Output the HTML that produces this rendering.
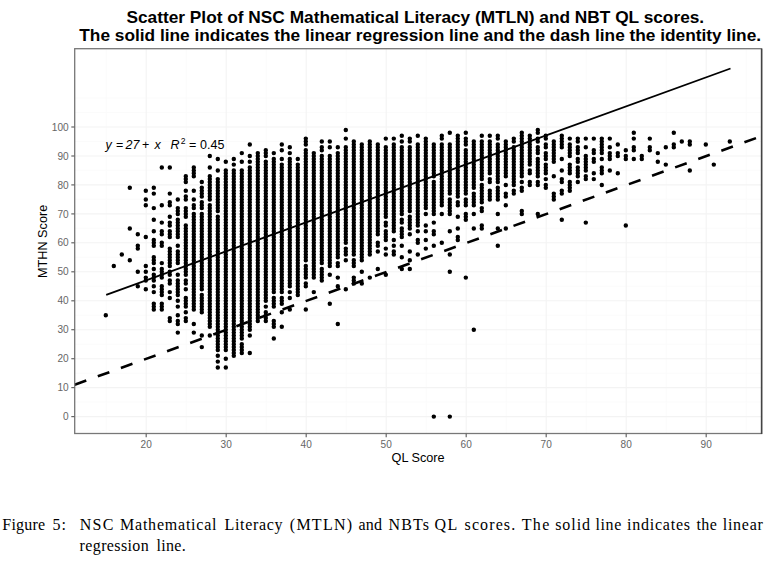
<!DOCTYPE html>
<html><head><meta charset="utf-8"><title>Figure 5</title>
<style>
html,body{margin:0;padding:0;background:#fff;}
body{width:776px;height:561px;overflow:hidden;position:relative;font-family:"Liberation Sans",sans-serif;}
svg{position:absolute;left:0;top:0;}
.ttl{font-family:"Liberation Sans",sans-serif;font-weight:bold;font-size:17.3px;fill:#000;}
.gm{stroke:#fafafa;stroke-width:0.9;}
.gM{stroke:#f3f3f3;stroke-width:1.1;}
.tk{stroke:#666;stroke-width:1.2;}
.tl{font-family:"Liberation Sans",sans-serif;font-size:10.1px;fill:#666;}
.al{font-family:"Liberation Sans",sans-serif;font-size:12.7px;fill:#000;}
.eq text{font-family:"Liberation Sans",sans-serif;font-size:12.5px;fill:#000;}
.cp{font-family:"Liberation Serif",serif;font-size:16px;fill:#000;}
</style></head><body>
<svg width="776" height="561" viewBox="0 0 776 561">
<rect width="776" height="561" fill="#fff"/>
<text x="415.3" y="22.7" text-anchor="middle" class="ttl">Scatter Plot of NSC Mathematical Literacy (MTLN) and NBT QL scores.</text>
<text x="420.2" y="40.7" text-anchor="middle" class="ttl">The solid line indicates the linear regression line and the dash line the identity line.</text>
<g shape-rendering="auto">
<line x1="106.2" y1="48.7" x2="106.2" y2="433.5" class="gm"/><line x1="186.2" y1="48.7" x2="186.2" y2="433.5" class="gm"/><line x1="266.2" y1="48.7" x2="266.2" y2="433.5" class="gm"/><line x1="346.2" y1="48.7" x2="346.2" y2="433.5" class="gm"/><line x1="426.2" y1="48.7" x2="426.2" y2="433.5" class="gm"/><line x1="506.2" y1="48.7" x2="506.2" y2="433.5" class="gm"/><line x1="586.2" y1="48.7" x2="586.2" y2="433.5" class="gm"/><line x1="666.2" y1="48.7" x2="666.2" y2="433.5" class="gm"/><line x1="746.2" y1="48.7" x2="746.2" y2="433.5" class="gm"/><line x1="74.7" y1="431.1" x2="761.6" y2="431.1" class="gm"/><line x1="74.7" y1="402.1" x2="761.6" y2="402.1" class="gm"/><line x1="74.7" y1="373.2" x2="761.6" y2="373.2" class="gm"/><line x1="74.7" y1="344.2" x2="761.6" y2="344.2" class="gm"/><line x1="74.7" y1="315.2" x2="761.6" y2="315.2" class="gm"/><line x1="74.7" y1="286.3" x2="761.6" y2="286.3" class="gm"/><line x1="74.7" y1="257.3" x2="761.6" y2="257.3" class="gm"/><line x1="74.7" y1="228.4" x2="761.6" y2="228.4" class="gm"/><line x1="74.7" y1="199.4" x2="761.6" y2="199.4" class="gm"/><line x1="74.7" y1="170.4" x2="761.6" y2="170.4" class="gm"/><line x1="74.7" y1="141.5" x2="761.6" y2="141.5" class="gm"/><line x1="74.7" y1="112.5" x2="761.6" y2="112.5" class="gm"/><line x1="74.7" y1="98.0" x2="761.6" y2="98.0" class="gm"/><line x1="146.2" y1="48.7" x2="146.2" y2="433.5" class="gM"/><line x1="226.2" y1="48.7" x2="226.2" y2="433.5" class="gM"/><line x1="306.2" y1="48.7" x2="306.2" y2="433.5" class="gM"/><line x1="386.2" y1="48.7" x2="386.2" y2="433.5" class="gM"/><line x1="466.2" y1="48.7" x2="466.2" y2="433.5" class="gM"/><line x1="546.2" y1="48.7" x2="546.2" y2="433.5" class="gM"/><line x1="626.2" y1="48.7" x2="626.2" y2="433.5" class="gM"/><line x1="706.2" y1="48.7" x2="706.2" y2="433.5" class="gM"/><line x1="74.7" y1="416.6" x2="761.6" y2="416.6" class="gM"/><line x1="74.7" y1="387.6" x2="761.6" y2="387.6" class="gM"/><line x1="74.7" y1="358.7" x2="761.6" y2="358.7" class="gM"/><line x1="74.7" y1="329.7" x2="761.6" y2="329.7" class="gM"/><line x1="74.7" y1="300.8" x2="761.6" y2="300.8" class="gM"/><line x1="74.7" y1="271.8" x2="761.6" y2="271.8" class="gM"/><line x1="74.7" y1="242.8" x2="761.6" y2="242.8" class="gM"/><line x1="74.7" y1="213.9" x2="761.6" y2="213.9" class="gM"/><line x1="74.7" y1="184.9" x2="761.6" y2="184.9" class="gM"/><line x1="74.7" y1="156.0" x2="761.6" y2="156.0" class="gM"/><line x1="74.7" y1="127.0" x2="761.6" y2="127.0" class="gM"/>
</g>
<path d="M105.8 315.2h0M113.8 266.0h0M121.8 254.4h0M129.8 260.2h0M129.8 228.4h0M129.8 187.8h0M137.8 286.3h0M137.8 271.8h0M137.8 248.6h0M137.8 245.7h0M137.8 234.2h0M145.8 289.2h0M145.8 280.5h0M145.8 277.6h0M145.8 271.8h0M145.8 266.0h0M145.8 237.0h0M145.8 205.2h0M145.8 199.4h0M145.8 190.7h0M153.8 309.4h0M153.8 306.6h0M153.8 303.7h0M153.8 292.1h0M153.8 286.3h0M153.8 280.5h0M153.8 277.6h0M153.8 274.7h0M153.8 268.9h0M153.8 263.1h0M153.8 260.2h0M153.8 257.3h0M153.8 245.7h0M153.8 242.8h0M153.8 239.9h0M153.8 231.3h0M153.8 219.7h0M153.8 208.1h0M153.8 193.6h0M153.8 187.8h0M161.8 309.4h0M161.8 306.6h0M161.8 303.7h0M161.8 295.0h0M161.8 292.1h0M161.8 289.2h0M161.8 286.3h0M161.8 277.6h0M161.8 274.7h0M161.8 271.8h0M161.8 268.9h0M161.8 263.1h0M161.8 245.7h0M161.8 242.8h0M161.8 234.2h0M161.8 231.3h0M161.8 222.6h0M161.8 205.2h0M161.8 167.5h0M169.8 321.0h0M169.8 318.1h0M169.8 297.9h0M169.8 292.1h0M169.8 283.4h0M169.8 280.5h0M169.8 274.7h0M169.8 271.8h0M169.8 266.0h0M169.8 263.1h0M169.8 260.2h0M169.8 257.3h0M169.8 254.4h0M169.8 251.5h0M169.8 248.6h0M169.8 237.0h0M169.8 234.2h0M169.8 231.3h0M169.8 225.5h0M169.8 222.6h0M169.8 216.8h0M169.8 205.2h0M169.8 202.3h0M169.8 193.6h0M169.8 167.5h0M177.8 332.6h0M177.8 323.9h0M177.8 321.0h0M177.8 315.2h0M177.8 306.6h0M177.8 300.8h0M177.8 295.0h0M177.8 292.1h0M177.8 289.2h0M177.8 286.3h0M177.8 283.4h0M177.8 280.5h0M177.8 274.7h0M177.8 263.1h0M177.8 260.2h0M177.8 257.3h0M177.8 254.4h0M177.8 251.5h0M177.8 245.7h0M177.8 237.0h0M177.8 234.2h0M177.8 231.3h0M177.8 228.4h0M177.8 225.5h0M177.8 222.6h0M177.8 219.7h0M177.8 213.9h0M177.8 211.0h0M177.8 208.1h0M177.8 199.4h0M185.8 321.0h0M185.8 318.1h0M185.8 312.3h0M185.8 306.6h0M185.8 303.7h0M185.8 300.8h0M185.8 297.9h0M185.8 289.2h0M185.8 283.4h0M185.8 280.5h0M185.8 274.7h0M185.8 271.8h0M185.8 268.9h0M185.8 266.0h0M185.8 263.1h0M185.8 260.2h0M185.8 257.3h0M185.8 254.4h0M185.8 251.5h0M185.8 248.6h0M185.8 245.7h0M185.8 242.8h0M185.8 239.9h0M185.8 237.0h0M185.8 234.2h0M185.8 231.3h0M185.8 228.4h0M185.8 225.5h0M185.8 216.8h0M185.8 213.9h0M185.8 211.0h0M185.8 208.1h0M185.8 199.4h0M185.8 196.5h0M185.8 190.7h0M185.8 182.0h0M185.8 179.1h0M185.8 176.2h0M193.8 332.6h0M193.8 323.9h0M193.8 309.4h0M193.8 306.6h0M193.8 303.7h0M193.8 300.8h0M193.8 297.9h0M193.8 295.0h0M193.8 292.1h0M193.8 289.2h0M193.8 286.3h0M193.8 283.4h0M193.8 280.5h0M193.8 277.6h0M193.8 274.7h0M193.8 271.8h0M193.8 268.9h0M193.8 266.0h0M193.8 263.1h0M193.8 260.2h0M193.8 257.3h0M193.8 254.4h0M193.8 251.5h0M193.8 248.6h0M193.8 245.7h0M193.8 242.8h0M193.8 239.9h0M193.8 237.0h0M193.8 234.2h0M193.8 231.3h0M193.8 228.4h0M193.8 225.5h0M193.8 222.6h0M193.8 219.7h0M193.8 216.8h0M193.8 213.9h0M193.8 208.1h0M193.8 205.2h0M193.8 199.4h0M193.8 190.7h0M193.8 176.2h0M193.8 173.3h0M193.8 170.4h0M193.8 167.5h0M201.8 347.1h0M201.8 335.5h0M201.8 312.3h0M201.8 309.4h0M201.8 306.6h0M201.8 303.7h0M201.8 300.8h0M201.8 297.9h0M201.8 295.0h0M201.8 289.2h0M201.8 286.3h0M201.8 283.4h0M201.8 280.5h0M201.8 277.6h0M201.8 274.7h0M201.8 271.8h0M201.8 268.9h0M201.8 266.0h0M201.8 263.1h0M201.8 260.2h0M201.8 257.3h0M201.8 254.4h0M201.8 251.5h0M201.8 248.6h0M201.8 245.7h0M201.8 242.8h0M201.8 239.9h0M201.8 237.0h0M201.8 234.2h0M201.8 231.3h0M201.8 228.4h0M201.8 225.5h0M201.8 222.6h0M201.8 219.7h0M201.8 216.8h0M201.8 213.9h0M201.8 208.1h0M201.8 205.2h0M201.8 202.3h0M201.8 196.5h0M201.8 193.6h0M201.8 190.7h0M201.8 187.8h0M201.8 182.0h0M209.8 335.5h0M209.8 326.8h0M209.8 323.9h0M209.8 321.0h0M209.8 318.1h0M209.8 315.2h0M209.8 312.3h0M209.8 309.4h0M209.8 306.6h0M209.8 303.7h0M209.8 300.8h0M209.8 297.9h0M209.8 295.0h0M209.8 292.1h0M209.8 289.2h0M209.8 286.3h0M209.8 283.4h0M209.8 280.5h0M209.8 277.6h0M209.8 274.7h0M209.8 271.8h0M209.8 268.9h0M209.8 266.0h0M209.8 263.1h0M209.8 260.2h0M209.8 257.3h0M209.8 254.4h0M209.8 251.5h0M209.8 248.6h0M209.8 245.7h0M209.8 242.8h0M209.8 239.9h0M209.8 237.0h0M209.8 234.2h0M209.8 231.3h0M209.8 228.4h0M209.8 225.5h0M209.8 222.6h0M209.8 219.7h0M209.8 216.8h0M209.8 213.9h0M209.8 211.0h0M209.8 208.1h0M209.8 205.2h0M209.8 199.4h0M209.8 196.5h0M209.8 193.6h0M209.8 190.7h0M209.8 187.8h0M209.8 184.9h0M209.8 182.0h0M209.8 179.1h0M209.8 176.2h0M209.8 167.5h0M209.8 156.0h0M217.8 367.4h0M217.8 361.6h0M217.8 355.8h0M217.8 350.0h0M217.8 347.1h0M217.8 344.2h0M217.8 341.3h0M217.8 338.4h0M217.8 335.5h0M217.8 332.6h0M217.8 329.7h0M217.8 326.8h0M217.8 323.9h0M217.8 321.0h0M217.8 318.1h0M217.8 315.2h0M217.8 312.3h0M217.8 309.4h0M217.8 306.6h0M217.8 303.7h0M217.8 300.8h0M217.8 297.9h0M217.8 295.0h0M217.8 292.1h0M217.8 289.2h0M217.8 286.3h0M217.8 283.4h0M217.8 280.5h0M217.8 277.6h0M217.8 274.7h0M217.8 271.8h0M217.8 268.9h0M217.8 266.0h0M217.8 263.1h0M217.8 260.2h0M217.8 257.3h0M217.8 254.4h0M217.8 251.5h0M217.8 248.6h0M217.8 245.7h0M217.8 242.8h0M217.8 239.9h0M217.8 237.0h0M217.8 234.2h0M217.8 231.3h0M217.8 228.4h0M217.8 225.5h0M217.8 222.6h0M217.8 219.7h0M217.8 216.8h0M217.8 211.0h0M217.8 208.1h0M217.8 205.2h0M217.8 202.3h0M217.8 199.4h0M217.8 196.5h0M217.8 193.6h0M217.8 190.7h0M217.8 187.8h0M217.8 184.9h0M217.8 182.0h0M217.8 179.1h0M217.8 170.4h0M217.8 158.9h0M225.8 367.4h0M225.8 358.7h0M225.8 350.0h0M225.8 347.1h0M225.8 344.2h0M225.8 341.3h0M225.8 338.4h0M225.8 335.5h0M225.8 332.6h0M225.8 329.7h0M225.8 326.8h0M225.8 323.9h0M225.8 321.0h0M225.8 318.1h0M225.8 315.2h0M225.8 312.3h0M225.8 309.4h0M225.8 306.6h0M225.8 303.7h0M225.8 300.8h0M225.8 297.9h0M225.8 295.0h0M225.8 292.1h0M225.8 289.2h0M225.8 286.3h0M225.8 283.4h0M225.8 280.5h0M225.8 277.6h0M225.8 274.7h0M225.8 271.8h0M225.8 268.9h0M225.8 266.0h0M225.8 263.1h0M225.8 260.2h0M225.8 257.3h0M225.8 254.4h0M225.8 251.5h0M225.8 248.6h0M225.8 245.7h0M225.8 242.8h0M225.8 239.9h0M225.8 237.0h0M225.8 234.2h0M225.8 231.3h0M225.8 228.4h0M225.8 225.5h0M225.8 222.6h0M225.8 219.7h0M225.8 216.8h0M225.8 213.9h0M225.8 211.0h0M225.8 208.1h0M225.8 205.2h0M225.8 202.3h0M225.8 199.4h0M225.8 196.5h0M225.8 193.6h0M225.8 190.7h0M225.8 187.8h0M225.8 184.9h0M225.8 182.0h0M225.8 179.1h0M225.8 176.2h0M225.8 173.3h0M225.8 170.4h0M225.8 161.8h0M233.8 355.8h0M233.8 352.9h0M233.8 350.0h0M233.8 347.1h0M233.8 344.2h0M233.8 341.3h0M233.8 338.4h0M233.8 335.5h0M233.8 332.6h0M233.8 329.7h0M233.8 326.8h0M233.8 323.9h0M233.8 321.0h0M233.8 318.1h0M233.8 315.2h0M233.8 312.3h0M233.8 309.4h0M233.8 306.6h0M233.8 303.7h0M233.8 300.8h0M233.8 297.9h0M233.8 295.0h0M233.8 292.1h0M233.8 289.2h0M233.8 286.3h0M233.8 283.4h0M233.8 280.5h0M233.8 277.6h0M233.8 274.7h0M233.8 271.8h0M233.8 268.9h0M233.8 266.0h0M233.8 263.1h0M233.8 260.2h0M233.8 257.3h0M233.8 254.4h0M233.8 251.5h0M233.8 248.6h0M233.8 245.7h0M233.8 242.8h0M233.8 239.9h0M233.8 237.0h0M233.8 234.2h0M233.8 231.3h0M233.8 228.4h0M233.8 225.5h0M233.8 222.6h0M233.8 219.7h0M233.8 216.8h0M233.8 213.9h0M233.8 211.0h0M233.8 208.1h0M233.8 205.2h0M233.8 202.3h0M233.8 199.4h0M233.8 196.5h0M233.8 193.6h0M233.8 190.7h0M233.8 187.8h0M233.8 184.9h0M233.8 182.0h0M233.8 179.1h0M233.8 176.2h0M233.8 173.3h0M233.8 170.4h0M233.8 164.6h0M233.8 158.9h0M241.8 352.9h0M241.8 350.0h0M241.8 347.1h0M241.8 344.2h0M241.8 338.4h0M241.8 335.5h0M241.8 332.6h0M241.8 329.7h0M241.8 326.8h0M241.8 323.9h0M241.8 321.0h0M241.8 318.1h0M241.8 315.2h0M241.8 312.3h0M241.8 309.4h0M241.8 306.6h0M241.8 303.7h0M241.8 300.8h0M241.8 297.9h0M241.8 295.0h0M241.8 292.1h0M241.8 289.2h0M241.8 286.3h0M241.8 283.4h0M241.8 280.5h0M241.8 277.6h0M241.8 274.7h0M241.8 271.8h0M241.8 268.9h0M241.8 266.0h0M241.8 263.1h0M241.8 260.2h0M241.8 257.3h0M241.8 254.4h0M241.8 251.5h0M241.8 248.6h0M241.8 245.7h0M241.8 242.8h0M241.8 239.9h0M241.8 237.0h0M241.8 234.2h0M241.8 231.3h0M241.8 228.4h0M241.8 225.5h0M241.8 222.6h0M241.8 219.7h0M241.8 216.8h0M241.8 213.9h0M241.8 211.0h0M241.8 208.1h0M241.8 205.2h0M241.8 202.3h0M241.8 199.4h0M241.8 196.5h0M241.8 193.6h0M241.8 190.7h0M241.8 187.8h0M241.8 184.9h0M241.8 182.0h0M241.8 179.1h0M241.8 176.2h0M241.8 173.3h0M241.8 170.4h0M241.8 161.8h0M241.8 153.1h0M249.8 352.9h0M249.8 335.5h0M249.8 329.7h0M249.8 326.8h0M249.8 323.9h0M249.8 321.0h0M249.8 318.1h0M249.8 315.2h0M249.8 312.3h0M249.8 309.4h0M249.8 306.6h0M249.8 303.7h0M249.8 300.8h0M249.8 297.9h0M249.8 295.0h0M249.8 292.1h0M249.8 289.2h0M249.8 286.3h0M249.8 283.4h0M249.8 280.5h0M249.8 277.6h0M249.8 274.7h0M249.8 271.8h0M249.8 268.9h0M249.8 266.0h0M249.8 263.1h0M249.8 260.2h0M249.8 257.3h0M249.8 254.4h0M249.8 251.5h0M249.8 248.6h0M249.8 245.7h0M249.8 242.8h0M249.8 239.9h0M249.8 237.0h0M249.8 234.2h0M249.8 231.3h0M249.8 228.4h0M249.8 225.5h0M249.8 222.6h0M249.8 219.7h0M249.8 216.8h0M249.8 213.9h0M249.8 211.0h0M249.8 208.1h0M249.8 205.2h0M249.8 202.3h0M249.8 199.4h0M249.8 196.5h0M249.8 193.6h0M249.8 190.7h0M249.8 187.8h0M249.8 184.9h0M249.8 182.0h0M249.8 179.1h0M249.8 176.2h0M249.8 173.3h0M249.8 170.4h0M249.8 167.5h0M249.8 161.8h0M249.8 156.0h0M249.8 144.4h0M257.8 321.0h0M257.8 318.1h0M257.8 315.2h0M257.8 312.3h0M257.8 309.4h0M257.8 306.6h0M257.8 303.7h0M257.8 300.8h0M257.8 297.9h0M257.8 295.0h0M257.8 292.1h0M257.8 289.2h0M257.8 286.3h0M257.8 283.4h0M257.8 280.5h0M257.8 277.6h0M257.8 274.7h0M257.8 271.8h0M257.8 268.9h0M257.8 266.0h0M257.8 263.1h0M257.8 260.2h0M257.8 257.3h0M257.8 254.4h0M257.8 251.5h0M257.8 248.6h0M257.8 245.7h0M257.8 242.8h0M257.8 239.9h0M257.8 237.0h0M257.8 234.2h0M257.8 231.3h0M257.8 228.4h0M257.8 225.5h0M257.8 222.6h0M257.8 219.7h0M257.8 216.8h0M257.8 213.9h0M257.8 211.0h0M257.8 208.1h0M257.8 205.2h0M257.8 202.3h0M257.8 199.4h0M257.8 196.5h0M257.8 193.6h0M257.8 190.7h0M257.8 187.8h0M257.8 184.9h0M257.8 182.0h0M257.8 179.1h0M257.8 176.2h0M257.8 173.3h0M257.8 170.4h0M257.8 167.5h0M257.8 164.6h0M257.8 161.8h0M257.8 158.9h0M257.8 156.0h0M257.8 153.1h0M265.8 321.0h0M265.8 318.1h0M265.8 315.2h0M265.8 312.3h0M265.8 306.6h0M265.8 300.8h0M265.8 297.9h0M265.8 295.0h0M265.8 292.1h0M265.8 289.2h0M265.8 286.3h0M265.8 283.4h0M265.8 280.5h0M265.8 277.6h0M265.8 274.7h0M265.8 271.8h0M265.8 268.9h0M265.8 266.0h0M265.8 263.1h0M265.8 260.2h0M265.8 257.3h0M265.8 254.4h0M265.8 251.5h0M265.8 248.6h0M265.8 245.7h0M265.8 242.8h0M265.8 239.9h0M265.8 237.0h0M265.8 234.2h0M265.8 231.3h0M265.8 228.4h0M265.8 225.5h0M265.8 222.6h0M265.8 219.7h0M265.8 216.8h0M265.8 213.9h0M265.8 211.0h0M265.8 208.1h0M265.8 205.2h0M265.8 202.3h0M265.8 199.4h0M265.8 196.5h0M265.8 193.6h0M265.8 190.7h0M265.8 187.8h0M265.8 184.9h0M265.8 182.0h0M265.8 179.1h0M265.8 176.2h0M265.8 173.3h0M265.8 170.4h0M265.8 167.5h0M265.8 164.6h0M265.8 161.8h0M265.8 156.0h0M265.8 153.1h0M265.8 150.2h0M273.8 338.4h0M273.8 326.8h0M273.8 323.9h0M273.8 321.0h0M273.8 306.6h0M273.8 303.7h0M273.8 300.8h0M273.8 297.9h0M273.8 292.1h0M273.8 289.2h0M273.8 286.3h0M273.8 283.4h0M273.8 280.5h0M273.8 277.6h0M273.8 274.7h0M273.8 271.8h0M273.8 268.9h0M273.8 266.0h0M273.8 263.1h0M273.8 260.2h0M273.8 257.3h0M273.8 254.4h0M273.8 251.5h0M273.8 248.6h0M273.8 245.7h0M273.8 242.8h0M273.8 239.9h0M273.8 237.0h0M273.8 234.2h0M273.8 231.3h0M273.8 228.4h0M273.8 225.5h0M273.8 222.6h0M273.8 219.7h0M273.8 216.8h0M273.8 213.9h0M273.8 211.0h0M273.8 208.1h0M273.8 205.2h0M273.8 202.3h0M273.8 199.4h0M273.8 196.5h0M273.8 193.6h0M273.8 190.7h0M273.8 187.8h0M273.8 184.9h0M273.8 182.0h0M273.8 179.1h0M273.8 176.2h0M273.8 173.3h0M273.8 170.4h0M273.8 167.5h0M273.8 164.6h0M273.8 161.8h0M273.8 158.9h0M273.8 153.1h0M281.8 326.8h0M281.8 312.3h0M281.8 303.7h0M281.8 300.8h0M281.8 297.9h0M281.8 292.1h0M281.8 289.2h0M281.8 286.3h0M281.8 283.4h0M281.8 280.5h0M281.8 277.6h0M281.8 274.7h0M281.8 271.8h0M281.8 268.9h0M281.8 266.0h0M281.8 263.1h0M281.8 260.2h0M281.8 257.3h0M281.8 254.4h0M281.8 251.5h0M281.8 248.6h0M281.8 245.7h0M281.8 242.8h0M281.8 239.9h0M281.8 237.0h0M281.8 234.2h0M281.8 231.3h0M281.8 228.4h0M281.8 225.5h0M281.8 222.6h0M281.8 219.7h0M281.8 216.8h0M281.8 213.9h0M281.8 211.0h0M281.8 208.1h0M281.8 205.2h0M281.8 202.3h0M281.8 199.4h0M281.8 196.5h0M281.8 193.6h0M281.8 190.7h0M281.8 187.8h0M281.8 184.9h0M281.8 182.0h0M281.8 179.1h0M281.8 176.2h0M281.8 173.3h0M281.8 170.4h0M281.8 167.5h0M281.8 164.6h0M281.8 158.9h0M281.8 150.2h0M281.8 144.4h0M289.8 309.4h0M289.8 297.9h0M289.8 292.1h0M289.8 286.3h0M289.8 283.4h0M289.8 280.5h0M289.8 277.6h0M289.8 274.7h0M289.8 271.8h0M289.8 268.9h0M289.8 266.0h0M289.8 263.1h0M289.8 260.2h0M289.8 257.3h0M289.8 254.4h0M289.8 251.5h0M289.8 248.6h0M289.8 245.7h0M289.8 242.8h0M289.8 239.9h0M289.8 237.0h0M289.8 234.2h0M289.8 231.3h0M289.8 228.4h0M289.8 225.5h0M289.8 222.6h0M289.8 219.7h0M289.8 216.8h0M289.8 213.9h0M289.8 211.0h0M289.8 208.1h0M289.8 205.2h0M289.8 202.3h0M289.8 199.4h0M289.8 196.5h0M289.8 193.6h0M289.8 190.7h0M289.8 187.8h0M289.8 184.9h0M289.8 182.0h0M289.8 179.1h0M289.8 176.2h0M289.8 173.3h0M289.8 170.4h0M289.8 167.5h0M289.8 164.6h0M289.8 161.8h0M289.8 158.9h0M289.8 153.1h0M289.8 147.3h0M297.8 295.0h0M297.8 292.1h0M297.8 289.2h0M297.8 286.3h0M297.8 283.4h0M297.8 280.5h0M297.8 277.6h0M297.8 274.7h0M297.8 271.8h0M297.8 268.9h0M297.8 266.0h0M297.8 263.1h0M297.8 260.2h0M297.8 257.3h0M297.8 254.4h0M297.8 251.5h0M297.8 248.6h0M297.8 245.7h0M297.8 242.8h0M297.8 239.9h0M297.8 237.0h0M297.8 234.2h0M297.8 231.3h0M297.8 228.4h0M297.8 225.5h0M297.8 222.6h0M297.8 219.7h0M297.8 216.8h0M297.8 213.9h0M297.8 211.0h0M297.8 208.1h0M297.8 205.2h0M297.8 202.3h0M297.8 199.4h0M297.8 196.5h0M297.8 193.6h0M297.8 190.7h0M297.8 187.8h0M297.8 184.9h0M297.8 182.0h0M297.8 179.1h0M297.8 176.2h0M297.8 173.3h0M297.8 170.4h0M297.8 167.5h0M297.8 164.6h0M297.8 158.9h0M305.8 309.4h0M305.8 286.3h0M305.8 283.4h0M305.8 277.6h0M305.8 274.7h0M305.8 271.8h0M305.8 268.9h0M305.8 266.0h0M305.8 260.2h0M305.8 257.3h0M305.8 254.4h0M305.8 251.5h0M305.8 248.6h0M305.8 245.7h0M305.8 242.8h0M305.8 239.9h0M305.8 237.0h0M305.8 234.2h0M305.8 231.3h0M305.8 228.4h0M305.8 225.5h0M305.8 222.6h0M305.8 219.7h0M305.8 216.8h0M305.8 213.9h0M305.8 211.0h0M305.8 208.1h0M305.8 205.2h0M305.8 202.3h0M305.8 199.4h0M305.8 196.5h0M305.8 193.6h0M305.8 190.7h0M305.8 187.8h0M305.8 184.9h0M305.8 182.0h0M305.8 179.1h0M305.8 176.2h0M305.8 173.3h0M305.8 170.4h0M305.8 167.5h0M305.8 164.6h0M305.8 161.8h0M305.8 158.9h0M305.8 156.0h0M305.8 153.1h0M305.8 150.2h0M305.8 144.4h0M305.8 141.5h0M305.8 138.6h0M313.8 292.1h0M313.8 277.6h0M313.8 274.7h0M313.8 271.8h0M313.8 268.9h0M313.8 266.0h0M313.8 263.1h0M313.8 260.2h0M313.8 257.3h0M313.8 254.4h0M313.8 251.5h0M313.8 248.6h0M313.8 245.7h0M313.8 242.8h0M313.8 239.9h0M313.8 237.0h0M313.8 234.2h0M313.8 231.3h0M313.8 228.4h0M313.8 225.5h0M313.8 222.6h0M313.8 219.7h0M313.8 216.8h0M313.8 213.9h0M313.8 211.0h0M313.8 208.1h0M313.8 205.2h0M313.8 202.3h0M313.8 199.4h0M313.8 196.5h0M313.8 193.6h0M313.8 190.7h0M313.8 187.8h0M313.8 184.9h0M313.8 182.0h0M313.8 179.1h0M313.8 176.2h0M313.8 173.3h0M313.8 170.4h0M313.8 167.5h0M313.8 164.6h0M313.8 161.8h0M313.8 158.9h0M313.8 156.0h0M313.8 153.1h0M321.8 280.5h0M321.8 277.6h0M321.8 274.7h0M321.8 271.8h0M321.8 268.9h0M321.8 263.1h0M321.8 260.2h0M321.8 257.3h0M321.8 254.4h0M321.8 251.5h0M321.8 248.6h0M321.8 245.7h0M321.8 242.8h0M321.8 239.9h0M321.8 237.0h0M321.8 234.2h0M321.8 231.3h0M321.8 228.4h0M321.8 225.5h0M321.8 222.6h0M321.8 219.7h0M321.8 216.8h0M321.8 213.9h0M321.8 211.0h0M321.8 208.1h0M321.8 205.2h0M321.8 202.3h0M321.8 199.4h0M321.8 196.5h0M321.8 193.6h0M321.8 190.7h0M321.8 187.8h0M321.8 184.9h0M321.8 182.0h0M321.8 179.1h0M321.8 176.2h0M321.8 173.3h0M321.8 170.4h0M321.8 167.5h0M321.8 164.6h0M321.8 161.8h0M321.8 158.9h0M321.8 156.0h0M321.8 150.2h0M321.8 147.3h0M321.8 141.5h0M329.8 303.7h0M329.8 274.7h0M329.8 266.0h0M329.8 263.1h0M329.8 260.2h0M329.8 257.3h0M329.8 254.4h0M329.8 251.5h0M329.8 248.6h0M329.8 245.7h0M329.8 242.8h0M329.8 239.9h0M329.8 237.0h0M329.8 234.2h0M329.8 231.3h0M329.8 228.4h0M329.8 225.5h0M329.8 222.6h0M329.8 219.7h0M329.8 216.8h0M329.8 213.9h0M329.8 211.0h0M329.8 208.1h0M329.8 205.2h0M329.8 202.3h0M329.8 199.4h0M329.8 196.5h0M329.8 193.6h0M329.8 190.7h0M329.8 187.8h0M329.8 184.9h0M329.8 182.0h0M329.8 179.1h0M329.8 176.2h0M329.8 173.3h0M329.8 170.4h0M329.8 167.5h0M329.8 164.6h0M329.8 161.8h0M329.8 158.9h0M329.8 156.0h0M329.8 147.3h0M329.8 141.5h0M337.8 323.9h0M337.8 286.3h0M337.8 277.6h0M337.8 266.0h0M337.8 263.1h0M337.8 257.3h0M337.8 254.4h0M337.8 251.5h0M337.8 248.6h0M337.8 245.7h0M337.8 242.8h0M337.8 239.9h0M337.8 237.0h0M337.8 234.2h0M337.8 231.3h0M337.8 228.4h0M337.8 225.5h0M337.8 222.6h0M337.8 219.7h0M337.8 216.8h0M337.8 213.9h0M337.8 211.0h0M337.8 208.1h0M337.8 205.2h0M337.8 202.3h0M337.8 199.4h0M337.8 196.5h0M337.8 193.6h0M337.8 190.7h0M337.8 187.8h0M337.8 184.9h0M337.8 182.0h0M337.8 179.1h0M337.8 176.2h0M337.8 173.3h0M337.8 170.4h0M337.8 167.5h0M337.8 164.6h0M337.8 161.8h0M337.8 158.9h0M337.8 156.0h0M337.8 153.1h0M337.8 147.3h0M345.8 289.2h0M345.8 260.2h0M345.8 254.4h0M345.8 251.5h0M345.8 248.6h0M345.8 242.8h0M345.8 239.9h0M345.8 237.0h0M345.8 234.2h0M345.8 231.3h0M345.8 228.4h0M345.8 225.5h0M345.8 222.6h0M345.8 219.7h0M345.8 216.8h0M345.8 213.9h0M345.8 211.0h0M345.8 208.1h0M345.8 205.2h0M345.8 202.3h0M345.8 199.4h0M345.8 196.5h0M345.8 193.6h0M345.8 190.7h0M345.8 187.8h0M345.8 184.9h0M345.8 182.0h0M345.8 179.1h0M345.8 176.2h0M345.8 173.3h0M345.8 170.4h0M345.8 167.5h0M345.8 164.6h0M345.8 161.8h0M345.8 158.9h0M345.8 156.0h0M345.8 153.1h0M345.8 150.2h0M345.8 147.3h0M345.8 138.6h0M345.8 129.9h0M353.8 283.4h0M353.8 280.5h0M353.8 277.6h0M353.8 266.0h0M353.8 263.1h0M353.8 260.2h0M353.8 254.4h0M353.8 251.5h0M353.8 248.6h0M353.8 245.7h0M353.8 242.8h0M353.8 239.9h0M353.8 237.0h0M353.8 234.2h0M353.8 231.3h0M353.8 228.4h0M353.8 225.5h0M353.8 222.6h0M353.8 219.7h0M353.8 216.8h0M353.8 213.9h0M353.8 211.0h0M353.8 208.1h0M353.8 205.2h0M353.8 202.3h0M353.8 199.4h0M353.8 196.5h0M353.8 193.6h0M353.8 190.7h0M353.8 187.8h0M353.8 184.9h0M353.8 182.0h0M353.8 179.1h0M353.8 176.2h0M353.8 173.3h0M353.8 170.4h0M353.8 167.5h0M353.8 164.6h0M353.8 161.8h0M353.8 158.9h0M353.8 156.0h0M353.8 153.1h0M353.8 150.2h0M353.8 147.3h0M353.8 144.4h0M353.8 141.5h0M361.8 283.4h0M361.8 271.8h0M361.8 260.2h0M361.8 257.3h0M361.8 254.4h0M361.8 251.5h0M361.8 248.6h0M361.8 245.7h0M361.8 242.8h0M361.8 239.9h0M361.8 237.0h0M361.8 234.2h0M361.8 231.3h0M361.8 228.4h0M361.8 225.5h0M361.8 222.6h0M361.8 219.7h0M361.8 216.8h0M361.8 213.9h0M361.8 211.0h0M361.8 208.1h0M361.8 205.2h0M361.8 202.3h0M361.8 199.4h0M361.8 196.5h0M361.8 193.6h0M361.8 190.7h0M361.8 187.8h0M361.8 184.9h0M361.8 182.0h0M361.8 179.1h0M361.8 176.2h0M361.8 173.3h0M361.8 170.4h0M361.8 167.5h0M361.8 164.6h0M361.8 161.8h0M361.8 158.9h0M361.8 156.0h0M361.8 153.1h0M361.8 150.2h0M361.8 147.3h0M361.8 144.4h0M369.8 277.6h0M369.8 254.4h0M369.8 251.5h0M369.8 248.6h0M369.8 245.7h0M369.8 242.8h0M369.8 239.9h0M369.8 237.0h0M369.8 234.2h0M369.8 231.3h0M369.8 228.4h0M369.8 225.5h0M369.8 222.6h0M369.8 219.7h0M369.8 216.8h0M369.8 213.9h0M369.8 211.0h0M369.8 208.1h0M369.8 205.2h0M369.8 202.3h0M369.8 199.4h0M369.8 196.5h0M369.8 193.6h0M369.8 190.7h0M369.8 187.8h0M369.8 184.9h0M369.8 182.0h0M369.8 179.1h0M369.8 176.2h0M369.8 173.3h0M369.8 170.4h0M369.8 167.5h0M369.8 164.6h0M369.8 161.8h0M369.8 158.9h0M369.8 156.0h0M369.8 153.1h0M369.8 150.2h0M369.8 147.3h0M369.8 144.4h0M369.8 141.5h0M377.8 268.9h0M377.8 251.5h0M377.8 245.7h0M377.8 242.8h0M377.8 234.2h0M377.8 231.3h0M377.8 228.4h0M377.8 225.5h0M377.8 222.6h0M377.8 219.7h0M377.8 216.8h0M377.8 213.9h0M377.8 211.0h0M377.8 208.1h0M377.8 205.2h0M377.8 202.3h0M377.8 199.4h0M377.8 196.5h0M377.8 193.6h0M377.8 190.7h0M377.8 187.8h0M377.8 184.9h0M377.8 182.0h0M377.8 179.1h0M377.8 176.2h0M377.8 173.3h0M377.8 170.4h0M377.8 167.5h0M377.8 164.6h0M377.8 161.8h0M377.8 158.9h0M377.8 156.0h0M377.8 153.1h0M377.8 150.2h0M377.8 147.3h0M377.8 144.4h0M385.8 274.7h0M385.8 254.4h0M385.8 248.6h0M385.8 239.9h0M385.8 237.0h0M385.8 234.2h0M385.8 231.3h0M385.8 225.5h0M385.8 222.6h0M385.8 216.8h0M385.8 213.9h0M385.8 211.0h0M385.8 208.1h0M385.8 205.2h0M385.8 202.3h0M385.8 199.4h0M385.8 196.5h0M385.8 193.6h0M385.8 190.7h0M385.8 187.8h0M385.8 184.9h0M385.8 182.0h0M385.8 179.1h0M385.8 176.2h0M385.8 173.3h0M385.8 170.4h0M385.8 167.5h0M385.8 164.6h0M385.8 161.8h0M385.8 158.9h0M385.8 156.0h0M385.8 153.1h0M385.8 150.2h0M385.8 147.3h0M385.8 138.6h0M393.8 254.4h0M393.8 251.5h0M393.8 245.7h0M393.8 239.9h0M393.8 231.3h0M393.8 228.4h0M393.8 225.5h0M393.8 222.6h0M393.8 219.7h0M393.8 216.8h0M393.8 213.9h0M393.8 211.0h0M393.8 208.1h0M393.8 205.2h0M393.8 202.3h0M393.8 199.4h0M393.8 196.5h0M393.8 193.6h0M393.8 190.7h0M393.8 187.8h0M393.8 184.9h0M393.8 182.0h0M393.8 179.1h0M393.8 176.2h0M393.8 173.3h0M393.8 170.4h0M393.8 167.5h0M393.8 164.6h0M393.8 161.8h0M393.8 158.9h0M393.8 156.0h0M393.8 153.1h0M393.8 150.2h0M393.8 147.3h0M393.8 144.4h0M393.8 138.6h0M401.8 268.9h0M401.8 257.3h0M401.8 245.7h0M401.8 237.0h0M401.8 234.2h0M401.8 231.3h0M401.8 228.4h0M401.8 222.6h0M401.8 219.7h0M401.8 213.9h0M401.8 211.0h0M401.8 208.1h0M401.8 205.2h0M401.8 202.3h0M401.8 199.4h0M401.8 196.5h0M401.8 193.6h0M401.8 190.7h0M401.8 187.8h0M401.8 184.9h0M401.8 182.0h0M401.8 179.1h0M401.8 176.2h0M401.8 173.3h0M401.8 170.4h0M401.8 167.5h0M401.8 164.6h0M401.8 161.8h0M401.8 158.9h0M401.8 156.0h0M401.8 153.1h0M401.8 150.2h0M401.8 147.3h0M401.8 141.5h0M401.8 135.7h0M409.8 268.9h0M409.8 260.2h0M409.8 251.5h0M409.8 234.2h0M409.8 228.4h0M409.8 225.5h0M409.8 222.6h0M409.8 219.7h0M409.8 216.8h0M409.8 211.0h0M409.8 208.1h0M409.8 205.2h0M409.8 202.3h0M409.8 199.4h0M409.8 196.5h0M409.8 193.6h0M409.8 190.7h0M409.8 187.8h0M409.8 184.9h0M409.8 182.0h0M409.8 179.1h0M409.8 176.2h0M409.8 173.3h0M409.8 170.4h0M409.8 167.5h0M409.8 164.6h0M409.8 161.8h0M409.8 158.9h0M409.8 156.0h0M409.8 153.1h0M409.8 150.2h0M409.8 147.3h0M409.8 141.5h0M409.8 138.6h0M417.8 254.4h0M417.8 242.8h0M417.8 239.9h0M417.8 231.3h0M417.8 225.5h0M417.8 222.6h0M417.8 219.7h0M417.8 216.8h0M417.8 213.9h0M417.8 211.0h0M417.8 208.1h0M417.8 205.2h0M417.8 202.3h0M417.8 199.4h0M417.8 196.5h0M417.8 193.6h0M417.8 190.7h0M417.8 187.8h0M417.8 184.9h0M417.8 182.0h0M417.8 179.1h0M417.8 176.2h0M417.8 173.3h0M417.8 170.4h0M417.8 167.5h0M417.8 164.6h0M417.8 161.8h0M417.8 158.9h0M417.8 156.0h0M417.8 153.1h0M417.8 150.2h0M417.8 147.3h0M417.8 144.4h0M417.8 135.7h0M425.8 248.6h0M425.8 239.9h0M425.8 231.3h0M425.8 225.5h0M425.8 213.9h0M425.8 208.1h0M425.8 205.2h0M425.8 202.3h0M425.8 199.4h0M425.8 196.5h0M425.8 193.6h0M425.8 190.7h0M425.8 187.8h0M425.8 184.9h0M425.8 182.0h0M425.8 179.1h0M425.8 176.2h0M425.8 173.3h0M425.8 170.4h0M425.8 167.5h0M425.8 164.6h0M425.8 161.8h0M425.8 158.9h0M425.8 156.0h0M425.8 153.1h0M425.8 150.2h0M425.8 147.3h0M425.8 144.4h0M425.8 141.5h0M425.8 138.6h0M433.8 416.6h0M433.8 245.7h0M433.8 234.2h0M433.8 231.3h0M433.8 222.6h0M433.8 213.9h0M433.8 211.0h0M433.8 208.1h0M433.8 205.2h0M433.8 202.3h0M433.8 199.4h0M433.8 196.5h0M433.8 193.6h0M433.8 190.7h0M433.8 187.8h0M433.8 184.9h0M433.8 182.0h0M433.8 176.2h0M433.8 173.3h0M433.8 170.4h0M433.8 167.5h0M433.8 164.6h0M433.8 161.8h0M433.8 158.9h0M433.8 156.0h0M433.8 153.1h0M433.8 150.2h0M433.8 147.3h0M433.8 144.4h0M441.8 242.8h0M441.8 213.9h0M441.8 205.2h0M441.8 202.3h0M441.8 199.4h0M441.8 196.5h0M441.8 193.6h0M441.8 190.7h0M441.8 187.8h0M441.8 184.9h0M441.8 182.0h0M441.8 179.1h0M441.8 176.2h0M441.8 173.3h0M441.8 170.4h0M441.8 167.5h0M441.8 164.6h0M441.8 161.8h0M441.8 158.9h0M441.8 156.0h0M441.8 153.1h0M441.8 150.2h0M441.8 147.3h0M441.8 144.4h0M441.8 138.6h0M441.8 135.7h0M449.8 416.6h0M449.8 271.8h0M449.8 254.4h0M449.8 231.3h0M449.8 213.9h0M449.8 211.0h0M449.8 208.1h0M449.8 205.2h0M449.8 202.3h0M449.8 199.4h0M449.8 193.6h0M449.8 190.7h0M449.8 187.8h0M449.8 184.9h0M449.8 182.0h0M449.8 179.1h0M449.8 176.2h0M449.8 173.3h0M449.8 170.4h0M449.8 167.5h0M449.8 164.6h0M449.8 161.8h0M449.8 158.9h0M449.8 156.0h0M449.8 153.1h0M449.8 150.2h0M449.8 147.3h0M449.8 144.4h0M449.8 132.8h0M457.8 239.9h0M457.8 237.0h0M457.8 228.4h0M457.8 216.8h0M457.8 205.2h0M457.8 202.3h0M457.8 196.5h0M457.8 193.6h0M457.8 190.7h0M457.8 187.8h0M457.8 184.9h0M457.8 182.0h0M457.8 179.1h0M457.8 176.2h0M457.8 173.3h0M457.8 170.4h0M457.8 167.5h0M457.8 164.6h0M457.8 161.8h0M457.8 158.9h0M457.8 156.0h0M457.8 153.1h0M457.8 150.2h0M457.8 147.3h0M457.8 144.4h0M457.8 141.5h0M457.8 138.6h0M457.8 135.7h0M465.8 277.6h0M465.8 219.7h0M465.8 216.8h0M465.8 213.9h0M465.8 205.2h0M465.8 202.3h0M465.8 199.4h0M465.8 193.6h0M465.8 190.7h0M465.8 187.8h0M465.8 184.9h0M465.8 182.0h0M465.8 179.1h0M465.8 176.2h0M465.8 173.3h0M465.8 170.4h0M465.8 167.5h0M465.8 164.6h0M465.8 161.8h0M465.8 158.9h0M465.8 156.0h0M465.8 153.1h0M465.8 150.2h0M465.8 144.4h0M465.8 141.5h0M465.8 138.6h0M465.8 132.8h0M473.8 329.7h0M473.8 228.4h0M473.8 213.9h0M473.8 205.2h0M473.8 202.3h0M473.8 199.4h0M473.8 196.5h0M473.8 193.6h0M473.8 187.8h0M473.8 184.9h0M473.8 182.0h0M473.8 179.1h0M473.8 176.2h0M473.8 173.3h0M473.8 170.4h0M473.8 167.5h0M473.8 164.6h0M473.8 161.8h0M473.8 158.9h0M473.8 156.0h0M473.8 153.1h0M473.8 150.2h0M473.8 147.3h0M473.8 144.4h0M473.8 141.5h0M481.8 228.4h0M481.8 225.5h0M481.8 211.0h0M481.8 208.1h0M481.8 202.3h0M481.8 199.4h0M481.8 196.5h0M481.8 193.6h0M481.8 190.7h0M481.8 187.8h0M481.8 184.9h0M481.8 179.1h0M481.8 176.2h0M481.8 173.3h0M481.8 170.4h0M481.8 167.5h0M481.8 164.6h0M481.8 161.8h0M481.8 158.9h0M481.8 156.0h0M481.8 153.1h0M481.8 150.2h0M481.8 147.3h0M481.8 144.4h0M481.8 141.5h0M481.8 135.7h0M489.8 199.4h0M489.8 196.5h0M489.8 193.6h0M489.8 190.7h0M489.8 182.0h0M489.8 179.1h0M489.8 173.3h0M489.8 170.4h0M489.8 167.5h0M489.8 164.6h0M489.8 161.8h0M489.8 158.9h0M489.8 156.0h0M489.8 153.1h0M489.8 150.2h0M489.8 147.3h0M489.8 144.4h0M489.8 141.5h0M489.8 135.7h0M497.8 245.7h0M497.8 228.4h0M497.8 213.9h0M497.8 199.4h0M497.8 196.5h0M497.8 193.6h0M497.8 190.7h0M497.8 187.8h0M497.8 182.0h0M497.8 179.1h0M497.8 176.2h0M497.8 173.3h0M497.8 170.4h0M497.8 167.5h0M497.8 164.6h0M497.8 161.8h0M497.8 158.9h0M497.8 156.0h0M497.8 153.1h0M497.8 150.2h0M497.8 147.3h0M497.8 144.4h0M497.8 138.6h0M497.8 135.7h0M505.8 228.4h0M505.8 205.2h0M505.8 196.5h0M505.8 193.6h0M505.8 184.9h0M505.8 176.2h0M505.8 173.3h0M505.8 170.4h0M505.8 167.5h0M505.8 164.6h0M505.8 161.8h0M505.8 158.9h0M505.8 156.0h0M505.8 153.1h0M505.8 150.2h0M505.8 147.3h0M505.8 144.4h0M505.8 141.5h0M513.8 193.6h0M513.8 190.7h0M513.8 184.9h0M513.8 182.0h0M513.8 179.1h0M513.8 176.2h0M513.8 173.3h0M513.8 170.4h0M513.8 167.5h0M513.8 164.6h0M513.8 161.8h0M513.8 158.9h0M513.8 156.0h0M513.8 153.1h0M513.8 150.2h0M513.8 147.3h0M513.8 141.5h0M513.8 138.6h0M521.8 213.9h0M521.8 211.0h0M521.8 190.7h0M521.8 187.8h0M521.8 182.0h0M521.8 176.2h0M521.8 173.3h0M521.8 170.4h0M521.8 167.5h0M521.8 164.6h0M521.8 161.8h0M521.8 158.9h0M521.8 156.0h0M521.8 153.1h0M521.8 150.2h0M521.8 147.3h0M521.8 144.4h0M521.8 141.5h0M521.8 138.6h0M521.8 135.7h0M521.8 132.8h0M529.8 184.9h0M529.8 182.0h0M529.8 173.3h0M529.8 170.4h0M529.8 164.6h0M529.8 161.8h0M529.8 158.9h0M529.8 156.0h0M529.8 153.1h0M529.8 150.2h0M529.8 147.3h0M529.8 144.4h0M529.8 141.5h0M529.8 138.6h0M529.8 135.7h0M537.8 213.9h0M537.8 184.9h0M537.8 182.0h0M537.8 176.2h0M537.8 173.3h0M537.8 170.4h0M537.8 167.5h0M537.8 164.6h0M537.8 161.8h0M537.8 158.9h0M537.8 153.1h0M537.8 150.2h0M537.8 147.3h0M537.8 141.5h0M537.8 138.6h0M537.8 132.8h0M537.8 129.9h0M545.8 187.8h0M545.8 184.9h0M545.8 179.1h0M545.8 173.3h0M545.8 170.4h0M545.8 167.5h0M545.8 164.6h0M545.8 158.9h0M545.8 156.0h0M545.8 153.1h0M545.8 147.3h0M545.8 144.4h0M545.8 138.6h0M545.8 135.7h0M553.8 199.4h0M553.8 196.5h0M553.8 193.6h0M553.8 176.2h0M553.8 161.8h0M553.8 158.9h0M553.8 156.0h0M553.8 153.1h0M553.8 150.2h0M553.8 147.3h0M553.8 144.4h0M553.8 141.5h0M561.8 219.7h0M561.8 193.6h0M561.8 190.7h0M561.8 182.0h0M561.8 179.1h0M561.8 170.4h0M561.8 158.9h0M561.8 147.3h0M561.8 144.4h0M561.8 141.5h0M561.8 138.6h0M561.8 135.7h0M569.8 190.7h0M569.8 187.8h0M569.8 184.9h0M569.8 182.0h0M569.8 173.3h0M569.8 170.4h0M569.8 167.5h0M569.8 164.6h0M569.8 156.0h0M569.8 153.1h0M569.8 150.2h0M569.8 147.3h0M569.8 144.4h0M569.8 138.6h0M577.8 182.0h0M577.8 176.2h0M577.8 173.3h0M577.8 170.4h0M577.8 167.5h0M577.8 161.8h0M577.8 158.9h0M577.8 153.1h0M577.8 150.2h0M577.8 147.3h0M577.8 141.5h0M577.8 138.6h0M585.8 222.6h0M585.8 179.1h0M585.8 176.2h0M585.8 170.4h0M585.8 167.5h0M585.8 164.6h0M585.8 161.8h0M585.8 158.9h0M585.8 156.0h0M585.8 147.3h0M585.8 138.6h0M593.8 179.1h0M593.8 173.3h0M593.8 161.8h0M593.8 158.9h0M593.8 153.1h0M593.8 150.2h0M593.8 138.6h0M601.8 184.9h0M601.8 173.3h0M601.8 170.4h0M601.8 167.5h0M601.8 158.9h0M601.8 153.1h0M601.8 150.2h0M601.8 147.3h0M601.8 144.4h0M601.8 141.5h0M601.8 138.6h0M609.8 170.4h0M609.8 158.9h0M609.8 156.0h0M609.8 153.1h0M609.8 147.3h0M609.8 138.6h0M617.8 173.3h0M617.8 156.0h0M617.8 153.1h0M617.8 144.4h0M625.8 225.5h0M625.8 158.9h0M625.8 156.0h0M625.8 150.2h0M633.8 158.9h0M633.8 150.2h0M633.8 147.3h0M633.8 138.6h0M633.8 132.8h0M641.8 158.9h0M641.8 156.0h0M649.8 150.2h0M649.8 147.3h0M649.8 138.6h0M657.8 161.8h0M657.8 153.1h0M665.8 164.6h0M665.8 147.3h0M673.8 147.3h0M673.8 144.4h0M673.8 132.8h0M681.8 141.5h0M689.8 170.4h0M689.8 144.4h0M689.8 141.5h0M705.8 144.4h0M713.8 164.6h0M729.8 141.5h0" stroke="#000" stroke-width="4.45" stroke-linecap="round" fill="none"/>
<line x1="106.2" y1="294.8" x2="730.5" y2="68.5" stroke="#000" stroke-width="1.85"/>
<line x1="74.7" y1="384.7" x2="761.6" y2="136.1" stroke="#000" stroke-width="2.6" stroke-dasharray="12.3 12.26"/>
<rect x="74.7" y="48.7" width="686.9" height="384.8" fill="none" stroke="#777" stroke-width="1.3"/>
<line x1="761.6" y1="48.7" x2="761.6" y2="434.1" stroke="#444" stroke-width="1.5"/>
<line x1="146.2" y1="433.5" x2="146.2" y2="437.3" class="tk"/><text x="146.2" y="448.1" class="tl" text-anchor="middle">20</text><line x1="226.2" y1="433.5" x2="226.2" y2="437.3" class="tk"/><text x="226.2" y="448.1" class="tl" text-anchor="middle">30</text><line x1="306.2" y1="433.5" x2="306.2" y2="437.3" class="tk"/><text x="306.2" y="448.1" class="tl" text-anchor="middle">40</text><line x1="386.2" y1="433.5" x2="386.2" y2="437.3" class="tk"/><text x="386.2" y="448.1" class="tl" text-anchor="middle">50</text><line x1="466.2" y1="433.5" x2="466.2" y2="437.3" class="tk"/><text x="466.2" y="448.1" class="tl" text-anchor="middle">60</text><line x1="546.2" y1="433.5" x2="546.2" y2="437.3" class="tk"/><text x="546.2" y="448.1" class="tl" text-anchor="middle">70</text><line x1="626.2" y1="433.5" x2="626.2" y2="437.3" class="tk"/><text x="626.2" y="448.1" class="tl" text-anchor="middle">80</text><line x1="706.2" y1="433.5" x2="706.2" y2="437.3" class="tk"/><text x="706.2" y="448.1" class="tl" text-anchor="middle">90</text><line x1="71.3" y1="416.6" x2="74.7" y2="416.6" class="tk"/><text x="68.7" y="420.2" class="tl" text-anchor="end">0</text><line x1="71.3" y1="387.6" x2="74.7" y2="387.6" class="tk"/><text x="68.7" y="391.2" class="tl" text-anchor="end">10</text><line x1="71.3" y1="358.7" x2="74.7" y2="358.7" class="tk"/><text x="68.7" y="362.3" class="tl" text-anchor="end">20</text><line x1="71.3" y1="329.7" x2="74.7" y2="329.7" class="tk"/><text x="68.7" y="333.3" class="tl" text-anchor="end">30</text><line x1="71.3" y1="300.8" x2="74.7" y2="300.8" class="tk"/><text x="68.7" y="304.4" class="tl" text-anchor="end">40</text><line x1="71.3" y1="271.8" x2="74.7" y2="271.8" class="tk"/><text x="68.7" y="275.4" class="tl" text-anchor="end">50</text><line x1="71.3" y1="242.8" x2="74.7" y2="242.8" class="tk"/><text x="68.7" y="246.4" class="tl" text-anchor="end">60</text><line x1="71.3" y1="213.9" x2="74.7" y2="213.9" class="tk"/><text x="68.7" y="217.5" class="tl" text-anchor="end">70</text><line x1="71.3" y1="184.9" x2="74.7" y2="184.9" class="tk"/><text x="68.7" y="188.5" class="tl" text-anchor="end">80</text><line x1="71.3" y1="156.0" x2="74.7" y2="156.0" class="tk"/><text x="68.7" y="159.6" class="tl" text-anchor="end">90</text><line x1="71.3" y1="127.0" x2="74.7" y2="127.0" class="tk"/><text x="68.7" y="130.6" class="tl" text-anchor="end">100</text>
<text x="418.1" y="461.9" text-anchor="middle" class="al">QL Score</text>
<text transform="translate(47.1,241.4) rotate(-90)" text-anchor="middle" class="al">MTHN Score</text>
<g class="eq"><text x="105.4" y="149" font-style="italic">y</text><text x="116" y="149">=</text><text x="125.6" y="149" font-style="italic">27</text><text x="142" y="149" fill="#777">+</text><text x="154.4" y="149" font-style="italic">x</text><text x="170.6" y="149" font-style="italic">R</text><text x="180.8" y="143.6" style="font-size:8.6px">2</text><text x="189" y="149">=</text><text x="200" y="149">0.45</text></g>
</svg>
<svg width="776" height="561" viewBox="0 0 776 561"><text x="2.3" y="530.2" class="cp" style="letter-spacing:0.20px">Figure</text><text x="52.5" y="530.2" class="cp" style="letter-spacing:0.90px">5:</text><text x="79.8" y="530.2" class="cp" style="letter-spacing:1.20px">NSC</text><text x="120.0" y="530.2" class="cp" style="letter-spacing:0.78px">Mathematical</text><text x="224.5" y="530.2" class="cp" style="letter-spacing:0.66px">Literacy</text><text x="289.8" y="530.2" class="cp" style="letter-spacing:1.26px">(MTLN)</text><text x="358.4" y="530.2" class="cp" style="letter-spacing:0.20px">and</text><text x="388.6" y="530.2" class="cp" style="letter-spacing:1.11px">NBTs</text><text x="434.5" y="530.2" class="cp" style="letter-spacing:1.40px">QL</text><text x="464.6" y="530.2" class="cp" style="letter-spacing:1.10px">scores.</text><text x="521.7" y="530.2" class="cp" style="letter-spacing:1.36px">The</text><text x="555.2" y="530.2" class="cp" style="letter-spacing:0.95px">solid</text><text x="595.4" y="530.2" class="cp" style="letter-spacing:0.64px">line</text><text x="626.9" y="530.2" class="cp" style="letter-spacing:0.79px">indicates</text><text x="696.6" y="530.2" class="cp" style="letter-spacing:0.33px">the</text><text x="722.7" y="530.2" class="cp" style="letter-spacing:0.76px">linear</text><text x="79.6" y="551.0" class="cp" style="letter-spacing:0.37px">regression</text><text x="156.4" y="551.0" class="cp" style="letter-spacing:0.33px">line.</text></svg>
</body></html>
